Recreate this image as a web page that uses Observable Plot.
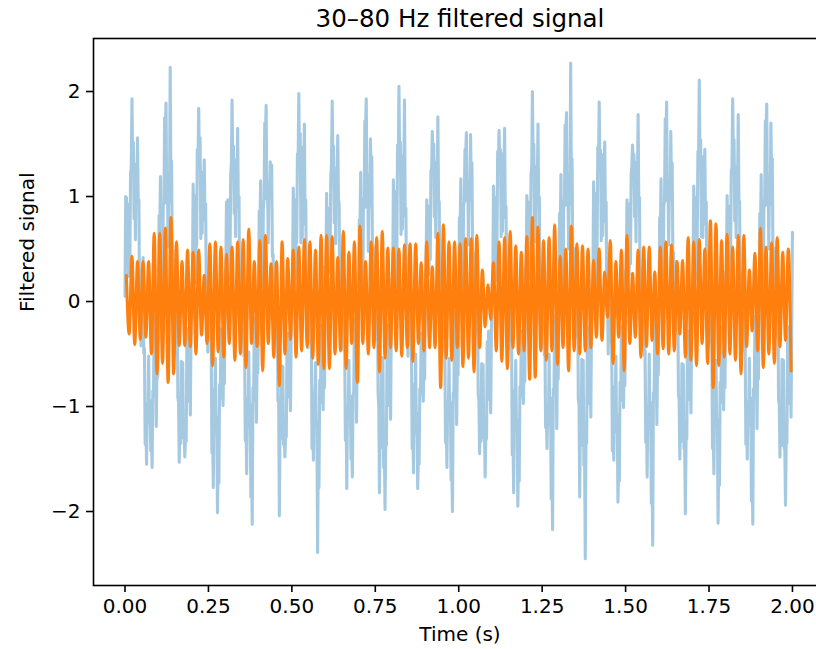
<!DOCTYPE html>
<html><head><meta charset="utf-8">
<script src="https://cdn.jsdelivr.net/npm/d3@7"></script>
<script src="https://cdn.jsdelivr.net/npm/@observablehq/plot@0.6"></script>
<style>html,body{margin:0;padding:0;background:#fff;overflow:hidden;}#chart svg{overflow:hidden;}</style>
</head><body><div id="chart"></div>
<script>
const title = "30–80 Hz filtered signal";
const xLabel = "Time (s)";
const yLabel = "Filtered signal";
const xTicks = [0, 0.25, 0.5, 0.75, 1.0, 1.25, 1.5, 1.75, 2.0];
const yTicks = [-2, -1, 0, 1, 2];

// raw signal, one value every 1/480 s from t = 0 to t = 2 (48 values per 0.1 s)
const rawStep = 1 / 480;
const rawSignal = [
 0.05,1.00,0.99,0.50,0.93,0.24,0.77,0.38,1.23,1.27,1.93,1.32,1.52,0.79,1.14,0.59,1.31,1.08,1.56,0.94,0.97,-0.20,-0.04,-0.42,0.30,0.00,0.42,-0.49,-0.45,-1.36,-1.08,-1.55,-0.97,-1.15,-0.52,-1.12,-0.94,-1.42,-1.30,-1.58,-0.85,-0.90,-0.12,-0.60,-0.43,-1.19,-0.58,-0.72,
 -0.22,0.82,0.66,1.19,0.37,0.60,0.10,0.94,0.93,1.75,1.62,1.89,0.94,1.16,0.52,1.17,0.95,2.23,1.12,1.34,0.39,0.49,-0.32,0.10,-0.32,0.40,-0.04,0.15,-0.91,-0.96,-1.53,-1.14,-1.35,-0.57,-0.94,-0.58,-1.30,-1.24,-1.48,-1.29,-1.33,-0.36,-0.70,-0.26,-0.95,-0.63,-1.08,-0.22,
 0.18,0.18,1.12,0.73,1.01,0.18,0.62,0.52,1.45,1.31,1.84,1.34,1.56,0.60,0.94,0.65,1.23,1.04,1.35,0.78,0.93,-0.03,0.08,-0.48,0.16,-0.08,0.50,-0.35,-0.39,-1.44,-1.24,-1.77,-0.83,-1.01,-0.54,-1.22,-1.10,-2.01,-1.50,-1.73,-0.79,-0.92,-0.26,-0.74,-0.37,-0.99,-0.54,-0.78,
 0.26,0.32,0.95,0.46,0.97,0.20,0.82,0.34,1.20,1.32,1.92,1.28,1.48,0.84,1.10,0.62,1.35,1.02,1.65,0.90,1.00,-0.16,-0.08,-0.38,0.26,0.04,0.38,-0.52,-0.42,-1.32,-1.12,-1.64,-0.92,-1.18,-0.48,-1.08,-0.98,-1.86,-1.58,-2.12,-0.82,-0.94,-0.16,-0.56,-0.46,-1.15,-0.62,-0.68,
 -0.18,0.86,0.62,1.15,0.40,0.56,0.14,0.90,0.97,1.70,1.58,1.87,0.98,1.12,0.56,1.13,0.99,1.33,1.08,1.30,0.43,0.45,-0.28,0.06,-0.28,0.36,0.00,0.11,-0.95,-0.92,-2.04,-1.18,-1.31,-0.61,-0.90,-0.62,-1.36,-1.28,-1.48,-1.25,-1.29,-0.40,-0.66,-0.30,-0.91,-0.67,-1.04,-0.26,
 0.14,0.22,1.08,0.77,0.97,0.22,0.58,0.56,1.41,1.35,1.98,1.30,1.60,0.56,0.98,0.61,1.47,1.20,1.69,0.74,0.97,-0.07,0.12,-0.44,0.12,-0.04,0.46,-0.39,-0.35,-1.40,-1.20,-1.51,-0.87,-0.97,-0.58,-1.18,-1.14,-2.39,-1.46,-1.77,-0.75,-0.96,-0.22,-0.78,-0.33,-1.03,-0.50,-0.82,
 0.34,0.23,1.03,0.46,0.89,0.28,0.73,0.42,1.19,1.31,1.91,1.36,1.48,0.75,1.18,0.55,1.27,1.12,1.58,0.98,0.93,-0.24,0.00,-0.46,0.34,-0.04,0.46,-0.45,-0.49,-1.32,-1.04,-1.78,-1.01,-1.11,-0.56,-1.08,-0.90,-1.50,-1.40,-1.67,-0.89,-0.86,-0.16,-0.56,-0.47,-1.15,-0.54,-0.76,
 -0.26,0.78,0.70,1.23,0.33,0.64,0.06,0.98,0.89,1.72,1.66,1.93,0.90,1.20,0.48,1.21,0.91,1.55,1.16,1.38,0.35,0.53,-0.36,0.14,-0.36,0.44,-0.08,0.19,-0.87,-1.00,-1.82,-1.10,-1.39,-0.53,-0.98,-0.54,-1.58,-1.40,-1.98,-1.33,-1.37,-0.32,-0.74,-0.22,-0.99,-0.59,-1.12,-0.18,
 0.22,0.14,1.16,0.69,1.05,0.14,0.66,0.48,1.49,1.27,2.05,1.38,1.52,0.64,0.90,0.69,1.39,1.28,1.92,0.82,0.89,0.01,0.04,-0.52,0.20,-0.12,0.54,-0.31,-0.43,-1.40,-1.28,-1.63,-0.79,-1.05,-0.50,-1.26,-1.06,-1.78,-1.46,-1.55,-0.83,-0.88,-0.30,-0.70,-0.41,-0.95,-0.58,-0.74,
 0.28,0.30,0.97,0.54,0.91,0.26,0.75,0.40,1.25,1.24,1.62,1.30,1.50,0.81,1.12,0.61,1.33,1.06,1.76,0.96,0.95,-0.18,-0.06,-0.40,0.28,0.02,0.40,-0.47,-0.47,-1.34,-1.10,-1.58,-0.95,-1.13,-0.54,-1.10,-0.96,-1.70,-1.60,-2.00,-0.87,-0.92,-0.10,-0.62,-0.41,-1.17,-0.60,-0.70,
 -0.20,0.80,0.68,1.17,0.39,0.58,0.12,0.92,0.95,1.45,1.40,1.61,0.96,1.14,0.54,1.15,0.97,1.59,1.10,1.32,0.41,0.47,-0.30,0.08,-0.30,0.38,-0.02,0.13,-0.89,-0.94,-1.45,-1.12,-1.33,-0.59,-0.92,-0.60,-1.30,-1.26,-1.67,-1.27,-1.31,-0.38,-0.68,-0.28,-0.93,-0.65,-1.06,-0.24,
 0.16,0.20,1.10,0.75,0.99,0.20,0.60,0.54,1.43,1.33,1.63,1.32,1.45,0.62,0.92,0.67,1.41,1.26,1.65,0.80,0.91,-0.01,0.06,-0.46,0.18,-0.06,0.48,-0.37,-0.37,-1.46,-1.22,-1.82,-0.85,-0.99,-0.56,-1.20,-1.12,-1.95,-1.48,-1.71,-0.81,-0.90,-0.28,-0.72,-0.39,-0.97,-0.56,-0.76,
 0.32,0.25,1.01,0.48,0.95,0.22,0.79,0.36,1.21,1.29,2.00,1.34,1.50,0.77,1.16,0.57,1.29,1.10,1.69,0.92,0.99,-0.22,-0.02,-0.44,0.32,-0.02,0.44,-0.51,-0.43,-1.20,-1.06,-1.40,-0.99,-1.17,-0.50,-1.14,-0.92,-1.88,-1.64,-2.17,-0.83,-0.88,-0.14,-0.58,-0.45,-1.21,-0.56,-0.74,
 -0.24,0.84,0.64,1.21,0.35,0.62,0.08,0.96,0.91,1.68,1.60,1.80,0.92,1.18,0.50,1.19,0.93,2.27,1.14,1.36,0.37,0.51,-0.34,0.12,-0.34,0.42,-0.06,0.17,-0.93,-0.98,-1.86,-1.16,-1.37,-0.55,-0.96,-0.56,-1.56,-1.46,-2.45,-1.31,-1.35,-0.34,-0.72,-0.24,-0.97,-0.61,-1.10,-0.20,
 0.20,0.16,1.14,0.71,1.03,0.16,0.64,0.50,1.47,1.29,1.90,1.36,1.44,0.58,0.96,0.63,1.40,1.22,1.52,0.76,0.95,-0.05,0.10,-0.50,0.14,-0.10,0.52,-0.33,-0.41,-1.42,-1.26,-1.51,-0.81,-1.03,-0.52,-1.24,-1.08,-1.91,-1.52,-1.71,-0.77,-0.94,-0.24,-0.76,-0.35,-1.01,-0.52,-0.80,
 0.30,0.29,0.97,0.52,0.93,0.26,0.75,0.36,1.21,1.29,1.49,1.30,1.40,0.81,1.16,0.57,1.33,1.10,1.78,0.92,0.99,-0.18,-0.02,-0.44,0.32,0.02,0.40,-0.51,-0.47,-1.34,-1.06,-1.67,-0.99,-1.13,-0.50,-1.14,-0.96,-1.92,-1.60,-2.32,-0.87,-0.92,-0.10,-0.62,-0.45,-1.17,-0.56,-0.70,
 -0.20,0.80,0.68,1.17,0.39,0.58,0.12,0.92,0.95,1.74,1.50,1.90,0.96,1.14,0.54,1.15,0.97,1.62,1.10,1.32,0.41,0.47,-0.30,0.08,-0.30,0.38,-0.02,0.13,-0.89,-0.94,-1.50,-1.12,-1.33,-0.59,-0.92,-0.60,-1.40,-1.42,-2.02,-1.27,-1.31,-0.38,-0.68,-0.28,-0.93,-0.65,-1.06,-0.24,
 0.16,0.22,1.10,0.77,0.99,0.22,0.60,0.56,1.43,1.35,2.11,1.30,1.54,0.62,0.96,0.61,1.38,1.20,1.45,0.74,0.95,-0.07,0.10,-0.44,0.14,-0.04,0.48,-0.39,-0.37,-1.40,-1.22,-1.64,-0.85,-0.97,-0.56,-1.18,-1.12,-2.11,-1.48,-1.75,-0.77,-0.96,-0.24,-0.78,-0.35,-1.03,-0.52,-0.82,
 0.28,0.25,1.01,0.48,0.91,0.22,0.79,0.40,1.25,1.27,1.93,1.34,1.54,0.77,1.12,0.61,1.29,1.06,1.78,0.96,0.95,-0.22,-0.06,-0.40,0.28,-0.02,0.44,-0.47,-0.43,-1.36,-1.10,-1.50,-0.95,-1.17,-0.54,-1.10,-0.92,-1.90,-1.64,-2.12,-0.83,-0.92,-0.14,-0.58,-0.41,-1.21,-0.60,-0.74,
 -0.24,0.84,0.64,1.21,0.35,0.62,0.08,0.96,0.91,1.72,1.60,1.88,0.92,1.18,0.50,1.19,0.93,1.70,1.14,1.36,0.37,0.51,-0.34,0.12,-0.34,0.42,-0.06,0.17,-0.93,-0.98,-1.48,-1.16,-1.37,-0.55,-0.96,-0.56,-1.38,-1.42,-1.94,-1.31,-1.35,-0.34,-0.72,-0.24,-0.97,-0.61,-1.10,-0.20,
 0.66
];

// 30–80 Hz filtered signal: successive crests and troughs (one every 1/120 s, from t = 1/240 s)
const filtStart = 1 / 240;
const filtStep = 1 / 120;
const filteredCrests = [
 0.25,0.43,0.38,0.38,0.38,0.65,0.65,0.70,0.80,0.57,0.38,0.49,0.47,0.49,0.25,0.55,0.57,0.52,0.45,0.52,0.57,0.59,0.69,0.38,0.58,0.63,0.36,0.38,0.57,0.41,0.49,0.52,0.59,
 0.57,0.49,0.63,0.63,0.62,0.42,0.67,0.47,0.57,0.72,0.38,0.57,0.61,0.67,0.51,0.51,0.50,0.54,0.55,0.55,0.37,0.57,0.33,0.65,0.73,0.57,
 0.57,0.55,0.60,0.60,0.63,0.30,0.16,0.37,0.57,0.61,0.67,0.53,0.47,0.62,0.80,0.71,0.58,0.61,0.73,0.43,0.50,0.72,0.55,0.53,0.50,0.39,
 0.50,0.28,0.58,0.38,0.49,0.63,0.27,0.49,0.52,0.52,0.28,0.52,0.57,0.54,0.38,0.39,0.61,0.57,0.59,0.50,0.77,0.74,0.58,0.64,0.52,0.63,0.63,0.30,0.46,0.70,0.52,0.56,0.61,0.47,0.50
];
const filteredTroughs = [
 -0.31,-0.41,-0.36,-0.34,-0.50,-0.69,-0.59,-0.77,-0.69,-0.42,-0.42,-0.43,-0.50,-0.32,-0.40,-0.61,-0.48,-0.53,-0.40,-0.56,-0.50,-0.63,-0.40,-0.43,-0.66,-0.40,-0.53,-0.80,-0.50,-0.36,-0.53,-0.47,-0.43,
 -0.54,-0.60,-0.64,-0.64,-0.50,-0.47,-0.64,-0.40,-0.77,-0.40,-0.50,-0.44,-0.67,-0.54,-0.44,-0.47,-0.52,-0.44,-0.57,-0.40,-0.47,-0.44,-0.44,-0.82,-0.54,
 -0.56,-0.44,-0.62,-0.54,-0.67,-0.44,-0.24,-0.17,-0.47,-0.57,-0.64,-0.44,-0.50,-0.47,-0.74,-0.72,-0.47,-0.56,-0.47,-0.60,-0.44,-0.66,-0.47,-0.50,-0.47,-0.44,-0.34,
 -0.37,-0.15,-0.59,-0.34,-0.66,-0.40,-0.34,-0.53,-0.43,-0.37,-0.50,-0.45,-0.50,-0.47,-0.31,-0.53,-0.56,-0.61,-0.40,-0.59,-0.82,-0.61,-0.53,-0.50,-0.56,-0.69,-0.43,-0.28,-0.47,-0.63,-0.50,-0.59,-0.43,-0.37,-0.66
];

const raw = rawSignal.map((v, i) => ({t: i * rawStep, v}));
const filtered = [];
filteredCrests.forEach((c, i) => {
  filtered.push({t: filtStart + (2 * i) * filtStep, v: c});
  filtered.push({t: filtStart + (2 * i + 1) * filtStep, v: filteredTroughs[i]});
});

const fmtY = d => d < 0 ? "\u2212" + Math.abs(d) : String(d);
const fmtX = d3.format(".2f");

const chart = Plot.plot({
  width: 816,
  height: 649,
  marginLeft: 93,
  marginRight: -10,
  marginTop: 38,
  marginBottom: 64,
  style: {fontFamily: "DejaVu Sans", fontSize: "20px", background: "#fff", overflow: "hidden"},
  x: {domain: [-0.0944, 2.102]},
  y: {domain: [-2.7045, 2.505]},
  marks: [
    Plot.line(raw, {x: "t", y: "v", stroke: "#1f77b4", strokeOpacity: 0.4, strokeWidth: 3.1}),
    Plot.line(filtered, {x: "t", y: "v", curve: "monotone-x", stroke: "#ff7f0e", strokeWidth: 3.1}),
    Plot.frame({stroke: "#000", strokeWidth: 1.6}),
    Plot.axisX({ticks: xTicks, tickFormat: fmtX, tickSize: 7, tickPadding: 6, strokeWidth: 1.6, label: null, fontSize: 20, fill: "#000"}),
    Plot.axisY({ticks: yTicks, tickFormat: fmtY, tickSize: 7, tickPadding: 6, strokeWidth: 1.6, label: null, fontSize: 20, fill: "#000"}),
    Plot.text([title], {text: d => d, frameAnchor: "top", dy: -12, lineAnchor: "bottom", fontSize: 24.5, fill: "#000"}),
    Plot.text([xLabel], {text: d => d, frameAnchor: "bottom", dy: 55, fontSize: 20, fill: "#000"}),
    Plot.text([yLabel], {text: d => d, frameAnchor: "left", dx: -66, rotate: -90, fontSize: 20, fill: "#000"})
  ]
});
document.getElementById("chart").appendChild(chart);
</script>
</body></html>
